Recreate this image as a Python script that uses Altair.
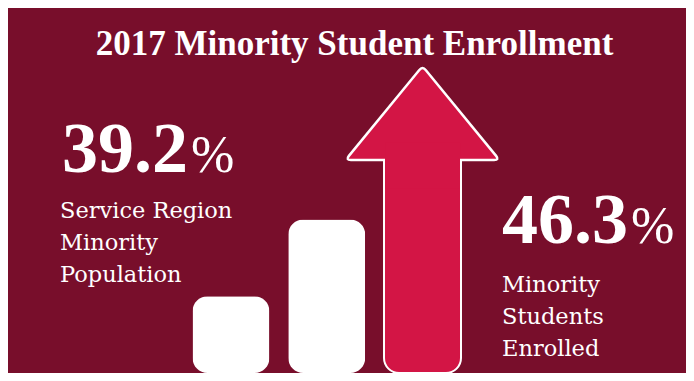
import altair as alt
import pandas as pd

# ---- data ----
title_text = "2017 Minority Student Enrollment"
stat_values = [39.2, 46.3]
left_label = ["Service Region", "Minority", "Population"]
right_label = ["Minority", "Students", "Enrolled"]
bar_names = ["Bar 1", "Bar 2", "Arrow"]
bar_heights = [1, 2, 4]

MAROON = "#780E2B"
RED = "#D31545"
WHITE = "#FFFFFF"

W, H = 678, 365

df = pd.DataFrame({"name": bar_names, "height": bar_heights})

xscale = alt.Scale(domain=bar_names, range=[184.5, 453], paddingInner=0.196, paddingOuter=0)
yscale = alt.Scale(domain=[0, 4.756], nice=False, zero=True)

X = alt.X("name:N", scale=xscale, axis=None)

base = alt.Chart(df)

white_bars = base.transform_filter(
    alt.FieldOneOfPredicate(field="name", oneOf=bar_names[:2])
).mark_bar(cornerRadius=15, color=WHITE).encode(
    x=X, y=alt.Y("height:Q", scale=yscale, axis=None)
)

arrow = base.transform_filter(alt.datum.name == bar_names[2]).transform_calculate(
    shaft_top="datum.height * 0.75",
    patch_bottom="datum.height * 0.6",
)

shaft = arrow.mark_bar(
    fill=RED, stroke=WHITE, strokeWidth=2,
    cornerRadiusBottomLeft=15, cornerRadiusBottomRight=15
).encode(x=X, y=alt.Y("shaft_top:Q", scale=yscale, axis=None))

head_path = ("M-0.044,0.054Q0,0 0.044,0.054L0.956,1.167Q1,1.221 0.93,1.221"
             "L-0.93,1.221Q-1,1.221 -0.956,1.167Z")
head = arrow.mark_point(
    shape=head_path, size=23716, filled=True, fill=RED, stroke=WHITE,
    strokeWidth=2.5, strokeJoin="round", opacity=1
).encode(x=X, y=alt.Y("height:Q", scale=yscale, axis=None))

patch = arrow.mark_bar(width=75, fill=RED, strokeWidth=0).encode(
    x=X,
    y=alt.Y("patch_bottom:Q", scale=yscale, axis=None),
    y2="shaft_top:Q",
)

one = alt.Chart(pd.DataFrame({"k": [0]}))

title = one.mark_text(
    font="Liberation Serif", fontWeight="bold", fontSize=35, color=WHITE,
    align="center", baseline="alphabetic"
).encode(x=alt.value(346.5), y=alt.value(47), text=alt.value(title_text))

def stat(val, x, y):
    num = one.mark_text(
        font="Liberation Serif", fontWeight="bold", fontSize=72, color=WHITE,
        align="left", baseline="alphabetic"
    ).encode(x=alt.value(x), y=alt.value(y), text=alt.value(f"{val:.1f}"))
    pct = one.mark_text(
        font="Liberation Serif", fontSize=52, color=WHITE,
        align="left", baseline="alphabetic"
    ).encode(x=alt.value(x + 129), y=alt.value(y), text=alt.value("%"))
    return num + pct

def label(lines, x, y):
    return one.mark_text(
        font="DejaVu Serif", fontSize=22.5, color=WHITE, align="left",
        baseline="alphabetic", lineHeight=32
    ).encode(x=alt.value(x), y=alt.value(y), text=alt.value(lines))

chart = alt.layer(
    white_bars, shaft, head, patch,
    title,
    stat(stat_values[0], 54, 164),
    label(left_label, 52, 210),
    stat(stat_values[1], 494, 235),
    label(right_label, 494, 284),
).properties(
    width=W, height=H,
    autosize=alt.AutoSizeParams(type="none"),
    padding=0,
    background=MAROON,
).configure_view(stroke=None)

chart.save("out.html", embed_options={"renderer": "svg", "actions": False})
